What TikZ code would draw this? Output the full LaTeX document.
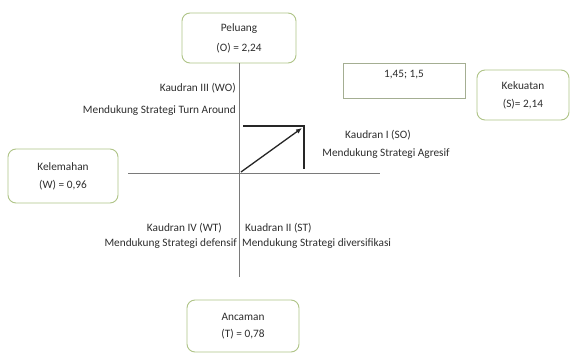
\documentclass[tikz,border=0pt]{standalone}
\usepackage{fontspec}
\setmainfont{Carlito}
\usetikzlibrary{arrows.meta}
\definecolor{boxgreen}{HTML}{AFC487}
\definecolor{sqgreen}{HTML}{A4AE92}
\definecolor{axisgray}{HTML}{7A7A7A}
\definecolor{txt}{HTML}{2E2E2E}
\begin{document}
\begin{tikzpicture}[x=1pt,y=-1pt, font=\fontsize{11.3}{13}\selectfont, text=txt,
  rbox/.style={draw=boxgreen, line width=0.9pt, rounded corners=8pt, fill=white, align=center, inner sep=0pt},
  sbox/.style={draw=sqgreen, line width=0.9pt, inner sep=0pt},
  axisline/.style={draw=axisgray, line width=0.8pt},
  vec/.style={draw=black!85, line width=1.3pt},
  lbl/.style={inner sep=0pt}]
\useasboundingbox[fill=white] (0,0) rectangle (574,358);

% boxes
\node[rbox, minimum width=114pt, minimum height=50pt] (O) at (239,38) {Peluang\\[7pt](O) = 2,24};
\node[rbox, minimum width=110pt, minimum height=54pt] (W) at (63,176) {Kelemahan\\[5pt](W) = 0,96};
\node[rbox, minimum width=92pt, minimum height=50pt] (S) at (523,95) {Kekuatan\\[5pt](S)= 2,14};
\node[rbox, minimum width=112pt, minimum height=52pt] (T) at (243,326) {Ancaman\\[4pt](T) = 0,78};
\node[sbox, minimum width=122pt, minimum height=35pt] (P) at (404,80.5) {};
\node[lbl] (Ptxt) at (404,75) {1,45; 1,5};

% axes
\coordinate (vend) at (239,277);
\coordinate (hstart) at (128,173);
\coordinate (hend) at (380,173);
\draw[axisline] (O.south) -- (vend);
\draw[axisline] (hstart) -- (hend);

% vector
\coordinate (org) at (241,172);
\coordinate (tip) at (302,128);
\coordinate (tl) at (243,126);
\coordinate (cor) at (304,126);
\coordinate (cb) at (304,169);
\draw[vec, -{Latex[length=6pt,width=5pt]}] (org) -- (tip);
\draw[vec] (tl) -- (cor) -- (cb);

% quadrant labels
\node[lbl, anchor=east] (q3a) at (236,88) {Kaudran III (WO)};
\node[lbl, anchor=east] (q3b) at (236,111) {Mendukung Strategi Turn Around};
\node[lbl] (q1a) at (378,135) {Kaudran I (SO)};
\node[lbl] (q1b) at (386,154) {Mendukung Strategi Agresif};
\node[lbl, anchor=east] (q4a) at (222,228) {Kaudran IV (WT)};
\node[lbl, anchor=east] (q4b) at (237,244) {Mendukung Strategi defensif};
\node[lbl, anchor=west] (q2a) at (245,228) {Kuadran II (ST)};
\node[lbl, anchor=west] (q2b) at (242,244) {Mendukung Strategi diversifikasi};
\end{tikzpicture}
\end{document}
